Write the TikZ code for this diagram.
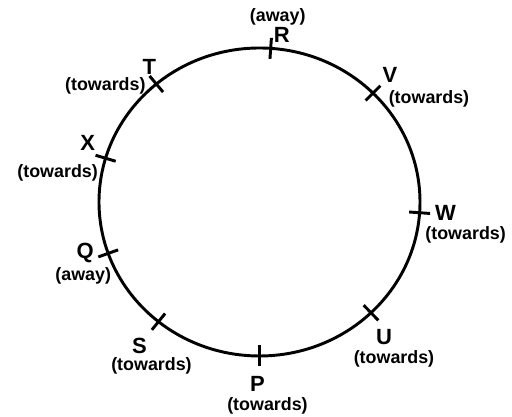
\documentclass[tikz,border=0pt]{standalone}
\usepackage{fontspec}
\setmainfont{Liberation Sans}
\usetikzlibrary{positioning}

\begin{document}
\begin{tikzpicture}[x=0.75pt,y=0.75pt,
    ptlabel/.style={font=\bfseries\fontsize{16.5}{16.5}\selectfont, inner sep=0pt},
    dirlabel/.style={font=\bfseries\fontsize{13.4}{13.4}\selectfont, inner sep=0pt},
    tick/.style={line width=2.2pt}]
  \useasboundingbox (0,0) rectangle (512,417);
  \begin{scope}[shift={(259.5,215)}]
    \draw[line width=2.2pt] (0,0) ellipse (160.5 and 154);
    % points on the track, with label offsets
    \foreach \n/\a/\lx/\ly/\d/\dx/\dy in {
        R/86/11/13/away/7/31,
        V/45/17/18/towards/56/-6,
        W/-4/26/0/towards/46/-22,
        U/-46/13/-24/towards/23/-46,
        P/-90/-2/-28/towards/8/-50,
        S/-129/-19/-24/towards/-7/-44,
        Q/-160.5/-23/0/away/-25/-22,
        X/163.5/-18/15/towards/-48/-15,
        T/130/-7/17/towards/-51/-2} {
      \coordinate (pt\n) at (\a:160.5 and 154);
      \draw[tick] (\a:150 and 143.5) -- (\a:171 and 164.5);
      \node[ptlabel] (lab\n) at ([shift={(\lx,\ly)}]pt\n) {\n};
      \node[dirlabel] (dir\n) at ([shift={(\dx,\dy)}]pt\n) {(\d)};
    }
  \end{scope}
\end{tikzpicture}
\end{document}
